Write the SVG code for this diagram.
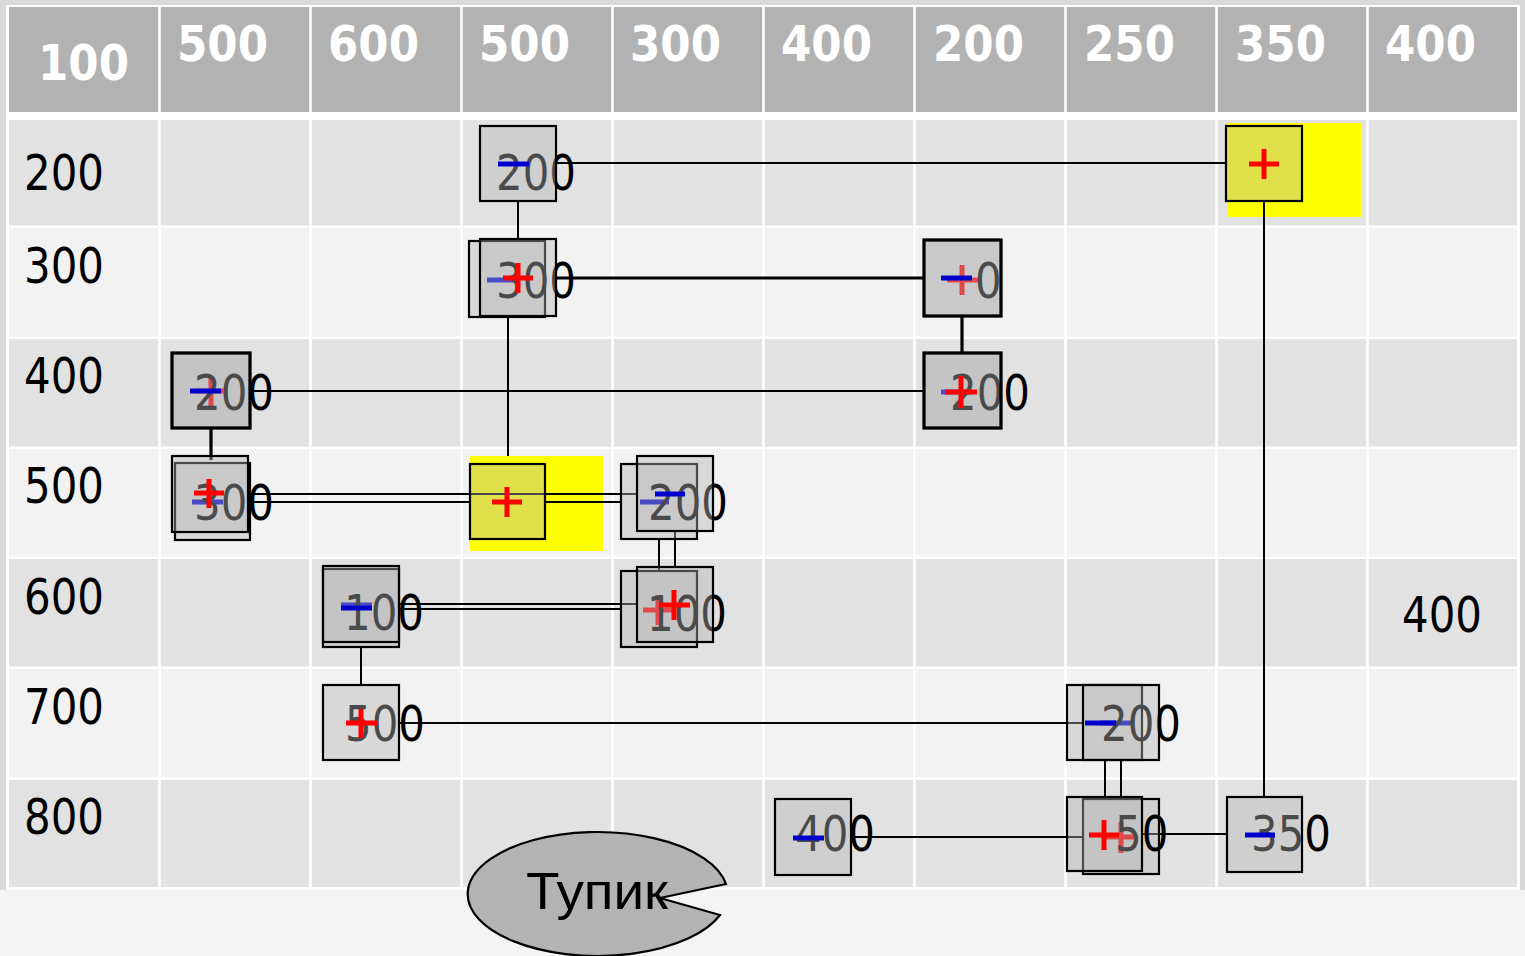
<svg xmlns="http://www.w3.org/2000/svg" width="1525" height="956" viewBox="0 0 1525 956">
<style>
.hd{font-family:"DejaVu Sans",sans-serif;font-weight:bold;font-size:50px;fill:#fff}
.rl{font-family:"DejaVu Sans",sans-serif;font-size:50px;fill:#000}
.nt{font-family:"DejaVu Sans",sans-serif;font-size:50px;fill:#000}
.bx{fill:#b4b4b4;fill-opacity:0.41;stroke:#000;stroke-width:2.2}
.bt{stroke-width:3.2}
.mn{stroke:#0000cc;stroke-width:5;fill:none}
.pl{stroke:#ff0000;stroke-width:5;fill:none}
.cn{stroke:#000;stroke-width:2;fill:none}
.ck{stroke:#000;stroke-width:3.2;fill:none}
.hl{fill:#ffff00}
</style>
<rect x="0" y="0" width="1525" height="956" fill="#f4f4f4"/>
<rect x="0" y="0" width="1525" height="890" fill="#d9d9d9"/>
<rect x="6" y="5" width="1514" height="885" fill="#ffffff"/>
<g id="table">
<rect x="9" y="7" width="1508" height="105" fill="#b2b2b2"/>
<rect x="9" y="120" width="1508" height="105.5" fill="#e2e2e2"/>
<rect x="9" y="228" width="1508" height="108.5" fill="#f2f2f2"/>
<rect x="9" y="339" width="1508" height="107.5" fill="#e2e2e2"/>
<rect x="9" y="449" width="1508" height="107.5" fill="#f2f2f2"/>
<rect x="9" y="559" width="1508" height="107.5" fill="#e2e2e2"/>
<rect x="9" y="669" width="1508" height="108" fill="#f2f2f2"/>
<rect x="9" y="780" width="1508" height="107" fill="#e2e2e2"/>
<g stroke="#fff" stroke-width="2.6">
<line x1="159.5" y1="5" x2="159.5" y2="890"/>
<line x1="310.5" y1="5" x2="310.5" y2="890"/>
<line x1="461.5" y1="5" x2="461.5" y2="890"/>
<line x1="612.5" y1="5" x2="612.5" y2="890"/>
<line x1="763.5" y1="5" x2="763.5" y2="890"/>
<line x1="914.5" y1="5" x2="914.5" y2="890"/>
<line x1="1065.5" y1="5" x2="1065.5" y2="890"/>
<line x1="1216.5" y1="5" x2="1216.5" y2="890"/>
<line x1="1367.5" y1="5" x2="1367.5" y2="890"/>
</g>
<text class="hd" x="38" y="80" textLength="91" lengthAdjust="spacingAndGlyphs">100</text>
<text class="hd" x="177" y="61" textLength="91" lengthAdjust="spacingAndGlyphs">500</text>
<text class="hd" x="328" y="61" textLength="91" lengthAdjust="spacingAndGlyphs">600</text>
<text class="hd" x="479" y="61" textLength="91" lengthAdjust="spacingAndGlyphs">500</text>
<text class="hd" x="630" y="61" textLength="91" lengthAdjust="spacingAndGlyphs">300</text>
<text class="hd" x="781" y="61" textLength="91" lengthAdjust="spacingAndGlyphs">400</text>
<text class="hd" x="933" y="61" textLength="91" lengthAdjust="spacingAndGlyphs">200</text>
<text class="hd" x="1084" y="61" textLength="91" lengthAdjust="spacingAndGlyphs">250</text>
<text class="hd" x="1235" y="61" textLength="91" lengthAdjust="spacingAndGlyphs">350</text>
<text class="hd" x="1385" y="61" textLength="91" lengthAdjust="spacingAndGlyphs">400</text>
<text class="rl" x="24" y="190" textLength="80" lengthAdjust="spacingAndGlyphs">200</text>
<text class="rl" x="24" y="283" textLength="80" lengthAdjust="spacingAndGlyphs">300</text>
<text class="rl" x="24" y="393" textLength="80" lengthAdjust="spacingAndGlyphs">400</text>
<text class="rl" x="24" y="503" textLength="80" lengthAdjust="spacingAndGlyphs">500</text>
<text class="rl" x="24" y="614" textLength="80" lengthAdjust="spacingAndGlyphs">600</text>
<text class="rl" x="24" y="724" textLength="80" lengthAdjust="spacingAndGlyphs">700</text>
<text class="rl" x="24" y="834" textLength="80" lengthAdjust="spacingAndGlyphs">800</text>
<text class="rl" x="1402" y="632" textLength="80" lengthAdjust="spacingAndGlyphs">400</text>
</g>
<g id="highlights">
<rect class="hl" x="1227" y="123" width="134" height="94"/>
<rect class="hl" x="470" y="456" width="133" height="95"/>
</g>
<g id="connectors">
<line class="cn" x1="556" y1="163" x2="1226" y2="163"/>
<line class="cn" x1="518" y1="201" x2="518" y2="239"/>
<line class="ck" x1="556" y1="278" x2="924" y2="278"/>
<line class="ck" x1="962" y1="316" x2="962" y2="353"/>
<line class="cn" x1="250" y1="391" x2="924" y2="391"/>
<line class="ck" x1="211" y1="428" x2="211" y2="460"/>
<line class="cn" x1="508" y1="317" x2="508" y2="456"/>
<line class="cn" x1="250" y1="494" x2="637" y2="494"/>
<line class="cn" x1="250" y1="502" x2="470" y2="502"/>
<line class="cn" x1="545" y1="502" x2="621" y2="502"/>
<line class="cn" x1="659" y1="539" x2="659" y2="571"/>
<line class="cn" x1="675" y1="531" x2="675" y2="567"/>
<line class="cn" x1="399" y1="604" x2="637" y2="604"/>
<line class="cn" x1="399" y1="609" x2="621" y2="609"/>
<line class="cn" x1="361" y1="647" x2="361" y2="685"/>
<line class="cn" x1="399" y1="723" x2="1083" y2="723"/>
<line class="cn" x1="1105" y1="760" x2="1105" y2="797"/>
<line class="cn" x1="1121" y1="760" x2="1121" y2="799"/>
<line class="cn" x1="851" y1="837" x2="1083" y2="837"/>
<line class="cn" x1="1142" y1="834" x2="1227" y2="834"/>
<line class="cn" x1="1264" y1="201" x2="1264" y2="797"/>
</g>
<g id="n200-c500">
<text class="nt" x="496" y="190" textLength="80" lengthAdjust="spacingAndGlyphs">200</text>
<rect class="bx" x="480" y="126" width="76" height="75"/>
<path class="mn" d="M498 164h31"/>
</g>
<g id="n200-c350">
<rect class="bx" x="1226" y="126" width="76" height="75"/>
<path class="pl" d="M1249 164h30M1264 149v30"/>
</g>
<g id="n300-c500">
<rect class="bx" x="469" y="241" width="76" height="76"/>
<path class="mn" d="M487 280h27"/>
<text class="nt" x="496" y="298" textLength="80" lengthAdjust="spacingAndGlyphs">300</text>
<rect class="bx" x="480" y="239" width="76" height="77"/>
<path class="pl" d="M503 278h30M518 263v30"/>
</g>
<g id="n300-c200">
<rect class="bx" x="924" y="240" width="77" height="76"/>
<path class="pl" d="M947 280h31M962 265v30"/>
<text class="nt" x="975" y="298" textLength="26.7" lengthAdjust="spacingAndGlyphs">0</text>
<rect class="bx bt" x="924" y="240" width="77" height="76"/>
<path class="mn" d="M941 278h31"/>
</g>
<g id="n400-c200">
<rect class="bx" x="924" y="353" width="77" height="75"/>
<path class="mn" d="M941 392h31"/>
<text class="nt" x="950" y="410" textLength="80" lengthAdjust="spacingAndGlyphs">200</text>
<rect class="bx bt" x="924" y="353" width="77" height="75"/>
<path class="pl" d="M945 392h32M961 376v32"/>
</g>
<g id="n400-c500">
<rect class="bx" x="172" y="353" width="78" height="75"/>
<path class="pl" d="M196 391h30M211 376v30"/>
<text class="nt" x="194" y="410" textLength="80" lengthAdjust="spacingAndGlyphs">200</text>
<rect class="bx bt" x="172" y="353" width="78" height="75"/>
<path class="mn" d="M190 391h31"/>
</g>
<g id="n500-c500">
<rect class="bx" x="175" y="463" width="75" height="77"/>
<path class="mn" d="M192 502h31"/>
<text class="nt" x="194" y="520" textLength="80" lengthAdjust="spacingAndGlyphs">300</text>
<rect class="bx" x="172" y="456" width="76" height="76"/>
<path class="pl" d="M194 493h30M209 479v29"/>
</g>
<g id="n500-c500y">
<rect class="bx" x="470" y="464" width="75" height="75"/>
<path class="pl" d="M492 502h30M507 487v30"/>
</g>
<g id="n500-c300">
<rect class="bx" x="621" y="464" width="76" height="75"/>
<path class="mn" d="M640 502h29"/>
<text class="nt" x="648" y="520" textLength="80" lengthAdjust="spacingAndGlyphs">200</text>
<rect class="bx" x="637" y="456" width="76" height="75"/>
<path class="mn" d="M655 494h30"/>
</g>
<g id="n600-c300">
<rect class="bx" x="621" y="571" width="76" height="76"/>
<path class="pl" d="M643 610h30M658 595v30"/>
<text class="nt" x="647" y="631" textLength="80" lengthAdjust="spacingAndGlyphs">100</text>
<rect class="bx" x="637" y="567" width="76" height="75"/>
<path class="pl" d="M659 605h31M674 590v30"/>
</g>
<g id="n600-c600">
<rect class="bx" x="323" y="569" width="76" height="78"/>
<path class="mn" d="M341 605h31"/>
<text class="nt" x="344" y="630" textLength="80" lengthAdjust="spacingAndGlyphs">100</text>
<rect class="bx" x="323" y="566" width="76" height="76"/>
<path class="mn" d="M341 608h31"/>
</g>
<g id="n700-c600">
<text class="nt" x="345" y="741" textLength="80" lengthAdjust="spacingAndGlyphs">500</text>
<rect class="bx" x="323" y="685" width="76" height="75"/>
<path class="pl" d="M346 723h31M361 709v29"/>
</g>
<g id="n700-c250">
<rect class="bx" x="1067" y="685" width="75" height="75"/>
<path class="mn" d="M1100 723h31"/>
<text class="nt" x="1101" y="741" textLength="80" lengthAdjust="spacingAndGlyphs">200</text>
<rect class="bx" x="1083" y="685" width="76" height="75"/>
<path class="mn" d="M1085 723h31"/>
</g>
<g id="n800-c250">
<rect class="bx" x="1083" y="799" width="76" height="75"/>
<path class="pl" d="M1106 837h30M1121 822v31"/>
<text class="nt" x="1115" y="851" textLength="53.4" lengthAdjust="spacingAndGlyphs">50</text>
<rect class="bx" x="1067" y="797" width="75" height="74"/>
<path class="pl" d="M1089 835h30M1104 820v30"/>
</g>
<g id="n800-c400">
<text class="nt" x="795" y="851" textLength="80" lengthAdjust="spacingAndGlyphs">400</text>
<rect class="bx" x="775" y="799" width="76" height="76"/>
<path class="mn" d="M793 838h31"/>
</g>
<g id="n800-c350">
<text class="nt" x="1251" y="851" textLength="80" lengthAdjust="spacingAndGlyphs">350</text>
<rect class="bx" x="1227" y="797" width="75" height="75"/>
<path class="mn" d="M1245 835h30"/>
</g>
<g id="tupik">
<path d="M726 884 A130 62 0 1 0 720 915 L660 898 Z" fill="#b3b3b3" stroke="#000" stroke-width="2.2"/>
<text x="526" y="909" font-family="'Liberation Sans',Arial,sans-serif" font-size="52" fill="#000" textLength="142" lengthAdjust="spacingAndGlyphs">Тупик</text>
</g>
</svg>
